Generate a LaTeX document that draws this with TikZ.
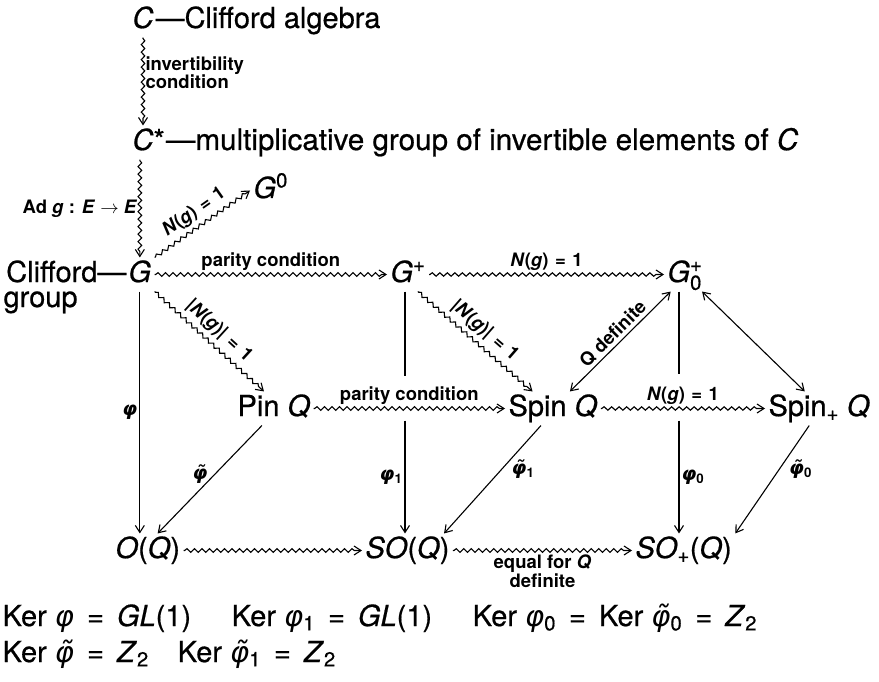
\RequirePackage{fix-cm}
\documentclass[tikz,border=0pt]{standalone}
\usepackage{amsmath}
\usepackage{fontspec}
\setmainfont{TeX Gyre Heros}[UprightFeatures={FakeBold=0.6},ItalicFeatures={FakeBold=0.6}]
\newfontfamily\grk{DejaVu Sans}
\usetikzlibrary{decorations.pathmorphing,arrows.meta,calc}
\newcommand\Ng{\textit{N}(\textit{g})}
\newcommand\eqq{\hspace{0.35em}=\hspace{0.35em}}
\newcommand\keq{\hspace{0.45em}=\hspace{0.45em}}
\newcommand\subt[1]{\ensuremath{_{\text{#1}}}}
\newcommand\supt[1]{\ensuremath{^{\text{#1}}}}
\newcommand\phib{{\grk\bfseries\itshape φ}}
\newcommand\phit{{\grk\bfseries\itshape φ̃}}
\newcommand\phik{{\grk\itshape φ}}
\newcommand\phikt{{\grk\itshape φ̃}}
\tikzset{
  big/.style={font=\fontsize{29}{33}\selectfont, inner sep=3pt, text height=21pt, text depth=6pt},
  plain/.style={font=\fontsize{29}{33}\selectfont, inner sep=0pt},
  lab/.style={font=\fontsize{18.5}{17}\selectfont\bfseries, inner sep=2pt},
  phil/.style={font=\fontsize{19}{19}\selectfont\bfseries, inner sep=2pt},
  kern/.style={font=\fontsize{29}{33}\selectfont, inner sep=0pt, anchor=base west},
  tip/.style={-{Straight Barb[length=7pt,width=9pt,line width=1.1pt]}},
  dtip/.style={{Straight Barb[length=7pt,width=9pt,line width=1.1pt]}-{Straight Barb[length=7pt,width=9pt,line width=1.1pt]}},
  wavy/.style={tip, decorate, decoration={snake, amplitude=1.8pt, segment length=7.5pt, post length=5pt, pre length=1pt}},
}
\begin{document}
\begin{tikzpicture}[x=1pt,y=-1pt,line width=1.1pt]
\useasboundingbox (0,0) rectangle (879,682);
% top
\node[big,anchor=base west] (C) at (129,28) {\textit{C}};
\node[plain,anchor=base west,xshift=-2pt] (Ct) at (C.base east) {—Clifford algebra};
\node[big,anchor=base west] (Cs) at (129,150) {\textit{C}*};
\node[plain,anchor=base west,xshift=-3pt,font=\fontsize{29.6}{33}\selectfont] (Cst) at (Cs.base east) {—multiplicative group of invertible elements of \textit{C}};
\node[big,anchor=base west] (G0) at (250,198) {\textit{G}\supt{0}};
% row 1
\node[big,anchor=base west] (G) at (125,282) {\textit{G}};
\node[plain,anchor=base east,xshift=2pt] (Cl) at (G.base west) {Clifford—};
\node[plain,anchor=base west] (grp) at (3,307) {group};
\node[big,anchor=base west] (Gp) at (387,282) {\textit{G}\supt{+}};
\node[big,anchor=base west] (G0p) at (664,282) {\textit{G}\ensuremath{^{\text{+}}_{\text{0}}}};
% row 2
\node[big,anchor=base west] (Pin) at (234,416) {Pin \textit{Q}};
\node[big,anchor=base west] (Spin) at (505,416) {Spin \textit{Q}};
\node[big,anchor=base west] (SpinP) at (765,416) {Spin\subt{+} \textit{Q}};
% row 3
\node[big,anchor=base west] (OQ) at (112,558) {\textit{O}(\textit{Q})};
\node[big,anchor=base west] (SOQ) at (362,558) {\textit{SO}(\textit{Q})};
\node[big,anchor=base west] (SOp) at (632,558) {\textit{SO}\subt{+}(\textit{Q})};
% kernels
\node[kern] (k1) at (2,626) {Ker \phik\keq\textit{GL}(1)\hspace{1.4em}Ker \phik\subt{1}\keq\textit{GL}(1)\hspace{1.4em}Ker \phik\subt{0}\keq{}Ker \phikt\subt{0}\keq\textit{Z}\subt{2}};
\node[kern] (k2) at (2,662) {Ker \phikt\keq\textit{Z}\subt{2}\hspace{1em}Ker \phikt\subt{1}\keq\textit{Z}\subt{2}};
% connectors
\draw[wavy] (C.south) -- (C.south |- Cs.north)
  node[lab,pos=0.4,right,align=left] {invertibility\\condition};
\draw[wavy] (G.north |- Cs.south) -- (G.north)
  node[lab,midway,left] {Ad \textit{g} : \textit{E} $\rightarrow$ \textit{E}};
\draw[wavy] (G.north east) -- (G0.west)
  node[lab,midway,above=3pt,sloped] {\Ng\eqq1};
\draw[wavy] (G.east) -- (Gp.west)
  node[lab,midway,above=1pt] {parity condition};
\draw[wavy] (Gp.east) -- (G0p.west)
  node[lab,midway,above=1pt] {\Ng\eqq1};
\draw[wavy] (G.south east) -- (Pin.120)
  node[lab,midway,above=3pt,sloped] {|\Ng|\eqq1};
\draw[wavy] (Gp.-60) -- (Spin.140)
  node[lab,midway,above=3pt,sloped] {|\Ng|\eqq1};
\draw[dtip] (Spin.45) -- (G0p.230)
  node[lab,midway,above=1pt,sloped] {Q definite};
\draw[dtip] (G0p.-45) -- (SpinP.130);
\draw[wavy] (Pin.east) -- (Spin.west)
  node[lab,midway,above=1pt] {parity condition};
\draw[wavy] (Spin.east) -- (SpinP.west)
  node[lab,midway,above=1pt] {\Ng\eqq1};
\draw[tip] (G.south) -- (G.south |- OQ.north)
  node[phil,midway,left] {\phib};
\coordinate (gA) at ($(Gp.south)+(-3,84)$);
\coordinate (gB) at ($(Gp.south |- Pin.east)+(-3,12)$);
\draw (Gp.south -| gA) -- (gA);
\draw[tip] (gB) -- (gB |- SOQ.north)
  node[phil,midway,left] {\phib\subt{1}};
\coordinate (hA) at ($(G0p.south)+(-6,82)$);
\coordinate (hB) at ($(G0p.south |- Spin.east)+(-6,12)$);
\draw (G0p.south -| hA) -- (hA);
\draw[tip] (hB) -- (hB |- SOp.north)
  node[phil,midway,right] {\phib\subt{0}};
\draw[tip] (Pin.235) -- (OQ.60)
  node[phil,pos=0.45,left=5pt] {\phit};
\draw[tip] (Spin.235) -- (SOQ.25)
  node[phil,pos=0.4,right=7pt] {\phit\subt{1}};
\draw[tip] (SpinP.240) -- (SOp.north east)
  node[phil,pos=0.4,right=7pt] {\phit\subt{0}};
\draw[wavy] (OQ.east) -- (SOQ.west);
\draw[wavy] (SOQ.east) -- (SOp.west)
  node[lab,midway,below=2pt,align=center] {equal for \textit{Q}\\definite};
\end{tikzpicture}
\end{document}
